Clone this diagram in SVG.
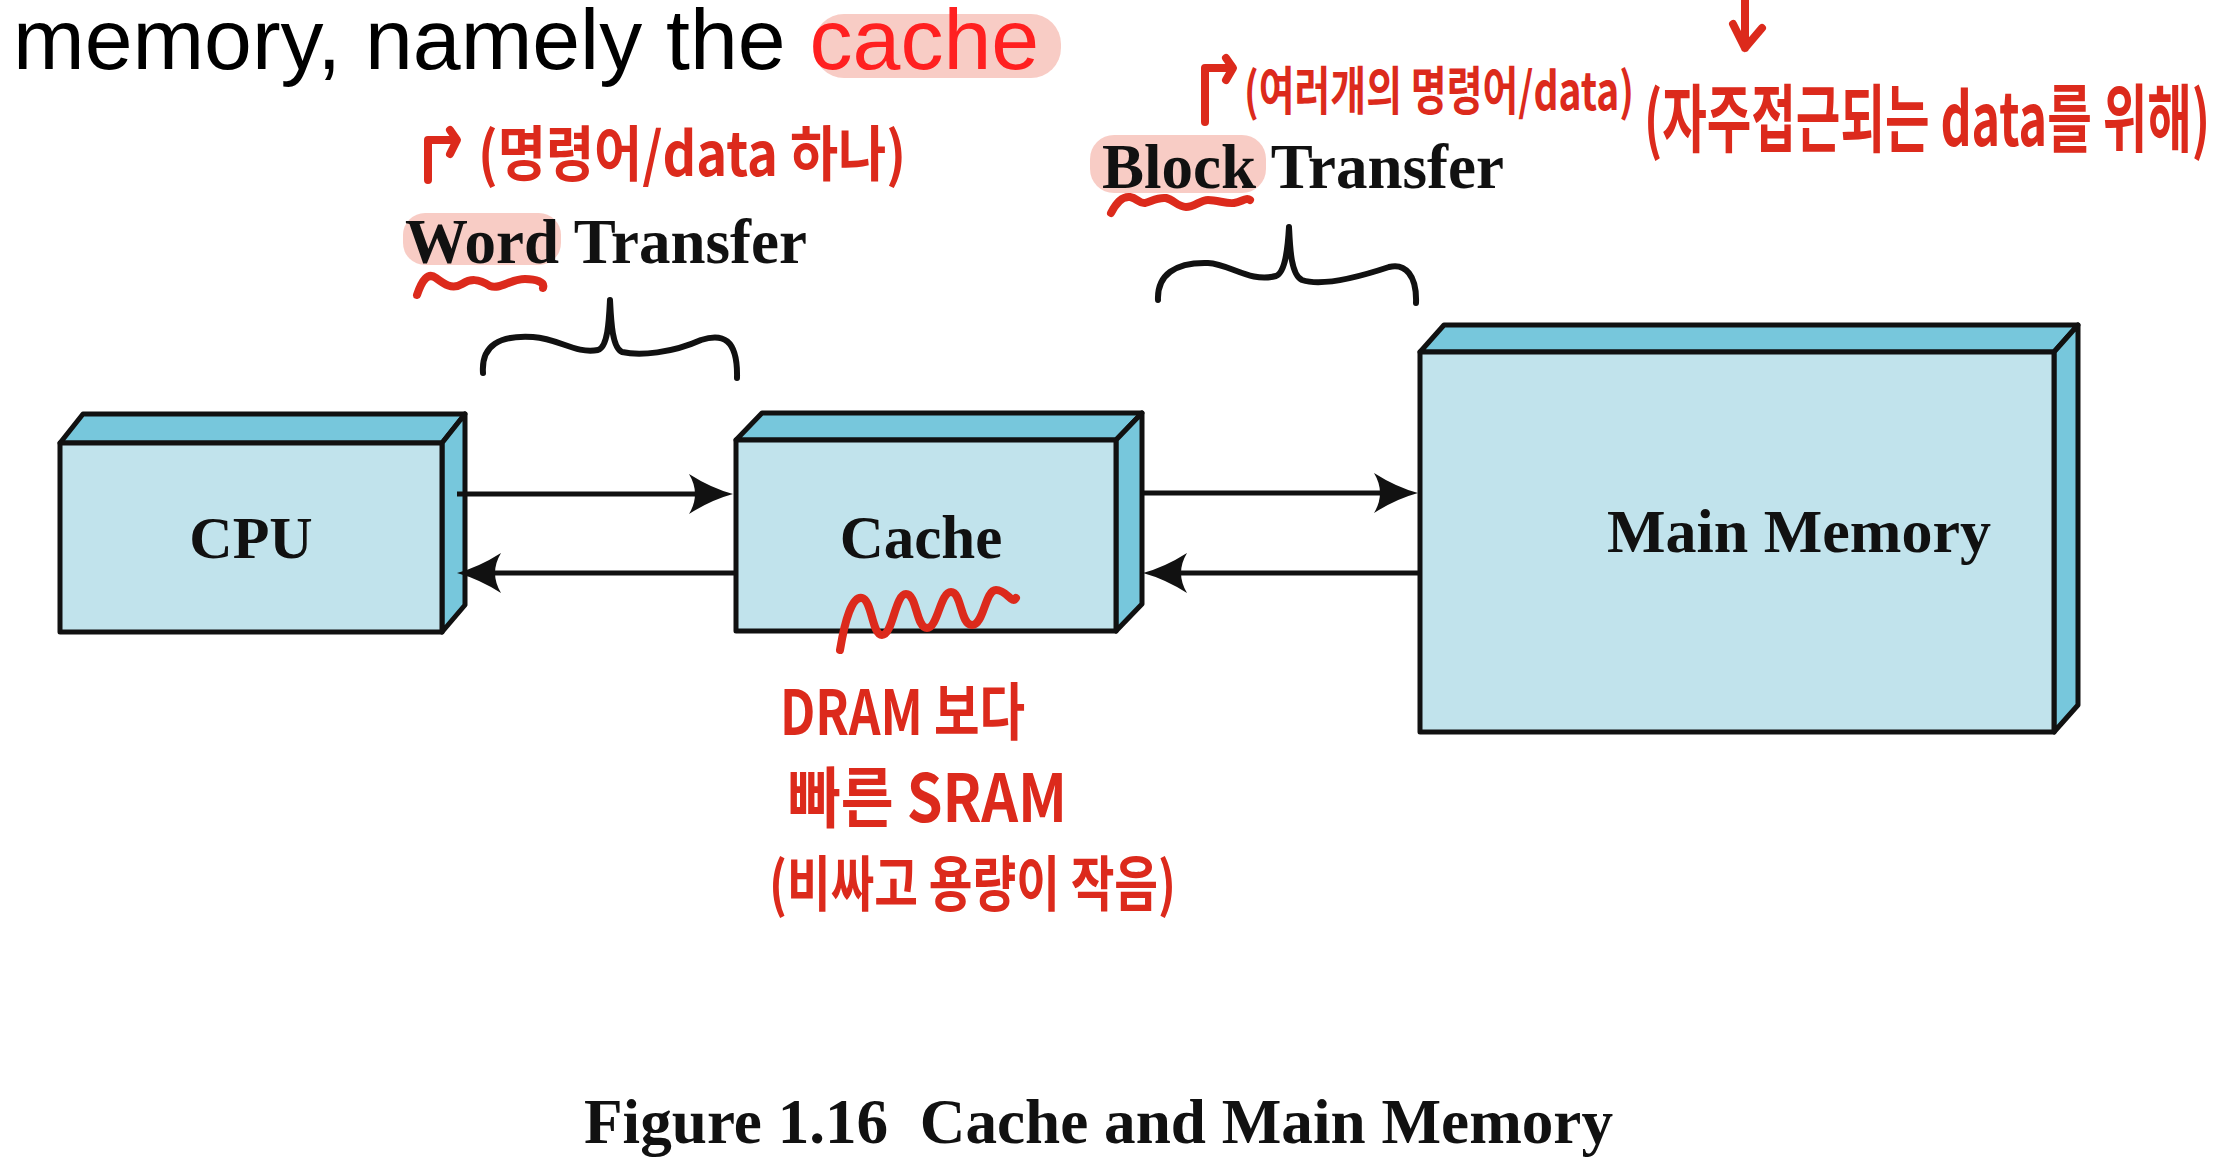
<svg xmlns="http://www.w3.org/2000/svg" width="2232" height="1172" viewBox="0 0 2232 1172">
<defs>
<style>
.front{fill:#c1e3ec;stroke:#111;stroke-width:5;stroke-linejoin:round}
.face{fill:#77c7dc;stroke:#111;stroke-width:5;stroke-linejoin:round}
.lbl{font-family:"Liberation Serif","Times New Roman",serif;font-weight:bold;fill:#111}
.conn{stroke:#111;stroke-width:5;fill:none}
.brace{stroke:#111;stroke-width:6;fill:none;stroke-linecap:round;stroke-linejoin:round}
.hand{font-family:"Noto Sans CJK KR","Noto Sans",sans-serif;font-weight:bold;fill:#dc2a1c}
.ink{stroke:#dc2a1c;stroke-width:8;fill:none;stroke-linecap:round;stroke-linejoin:round}
.hl{fill:#f7c3bb;opacity:0.85}
</style>
<marker id="ah" viewBox="-46 -22 50 44" refX="-18" refY="0" markerWidth="50" markerHeight="44" markerUnits="userSpaceOnUse" orient="auto">
<path d="M0,0 Q-22,-6 -44,-20 Q-32,0 -44,20 Q-22,6 0,0Z" fill="#111"/>
</marker>
</defs>
<rect width="2232" height="1172" fill="#fff"/>

<g id="intro-text">
<rect class="hl" x="814" y="14" width="247" height="64" rx="30"/>
<text x="13" y="69" font-family="Liberation Sans,Arial,sans-serif" font-size="86" fill="#000">memory, namely the <tspan fill="#ff2020">cache</tspan></text>
</g>

<g id="cpu">
<polygon class="face" points="60,443 83,414 465,414 442,443"/>
<polygon class="face" points="442,443 465,414 465,605 442,632"/>
<rect class="front" x="60" y="443" width="382" height="189"/>
<text class="lbl" x="251" y="558" font-size="60" text-anchor="middle">CPU</text>
</g>

<g id="cache">
<polygon class="face" points="736,440 762,413 1142,413 1116,440"/>
<polygon class="face" points="1116,440 1142,413 1142,604 1116,631"/>
<rect class="front" x="736" y="440" width="380" height="191"/>
<text class="lbl" x="921" y="558" font-size="61" text-anchor="middle">Cache</text>
</g>

<g id="main-memory">
<polygon class="face" points="1420,352 1444,325 2078,325 2054,352"/>
<polygon class="face" points="2054,352 2078,325 2078,705 2054,732"/>
<rect class="front" x="1420" y="352" width="634" height="380"/>
<text class="lbl" x="1799" y="552" font-size="62" text-anchor="middle">Main Memory</text>
</g>

<g id="connectors">
<path class="conn" d="M457,494 H715" marker-end="url(#ah)"/>
<path class="conn" d="M736,573 H475" marker-end="url(#ah)"/>
<path class="conn" d="M1143,493 H1400" marker-end="url(#ah)"/>
<path class="conn" d="M1418,573 H1161" marker-end="url(#ah)"/>
</g>

<g id="word-transfer">
<rect class="hl" x="403" y="213" width="158" height="52" rx="22"/>
<text class="lbl" x="405" y="263" font-size="63">Word Transfer</text>
<path class="brace" d="M483,373 C481,345 500,335 533,337 C560,339 575,354 598,350 C608,347 609,320 610,300 C611,320 612,348 622,352 C640,356 672,353 701,340 C722,333 738,338 737,378"/>
</g>

<g id="block-transfer">
<rect class="hl" x="1090" y="135" width="176" height="58" rx="24"/>
<text class="lbl" x="1102" y="188" font-size="63">Block Transfer</text>
<path class="brace" d="M1158,300 C1157,275 1175,262 1208,263 C1230,264 1250,283 1276,276 C1286,272 1288,245 1289,227 C1290,248 1291,275 1302,280 C1320,286 1350,280 1389,267 C1405,263 1417,275 1416,303"/>
</g>

<g id="annotations">
<path class="ink" d="M428,180 V140 H456 M450,130 L457,140 L450,154"/>
<text class="hand" x="478" y="176" font-size="60" textLength="428" lengthAdjust="spacingAndGlyphs">(명령어/data 하나)</text>
<path class="ink" d="M417,295 C422,280 428,272 436,278 C444,284 452,290 462,284 C470,279 478,278 490,286 C500,290 510,279 525,279 C536,279 545,282 543,288"/>

<path class="ink" d="M1205,122 V68 H1232 M1226,58 L1233,68 L1226,80"/>
<text class="hand" x="1244" y="110" font-size="52" textLength="390" lengthAdjust="spacingAndGlyphs">(여러개의 명령어/data)</text>
<path class="ink" d="M1745,0 V48 M1733,24 L1745,48 L1762,28"/>
<text class="hand" x="1644" y="146" font-size="74" textLength="566" lengthAdjust="spacingAndGlyphs">(자주접근되는 data를 위해)</text>
<path class="ink" d="M1111,213 C1116,203 1122,196 1130,197 C1137,198 1140,204 1145,203 C1152,201 1158,197 1166,198 C1174,200 1178,207 1186,207 C1195,207 1200,200 1208,200 C1218,200 1226,204 1234,203 C1242,202 1246,197 1250,200"/>

<path class="ink" d="M840,650 C845,620 852,596 862,598 C872,600 872,635 882,635 C893,635 895,594 906,594 C917,594 916,628 927,628 C938,628 940,592 951,592 C962,592 960,625 972,625 C984,625 985,590 996,590 C1007,590 1012,605 1016,598"/>
<text class="hand" x="780" y="735" font-size="62" textLength="245" lengthAdjust="spacingAndGlyphs">DRAM 보다</text>
<text class="hand" x="788" y="822" font-size="66" textLength="279" lengthAdjust="spacingAndGlyphs">빠른 SRAM</text>
<text class="hand" x="769" y="906" font-size="60" textLength="407" lengthAdjust="spacingAndGlyphs">(비싸고 용량이 작음)</text>
</g>

<g id="caption">
<text class="lbl" x="584" y="1143" font-size="63" xml:space="preserve" textLength="1029" lengthAdjust="spacingAndGlyphs">Figure 1.16  Cache and Main Memory</text>
</g>
</svg>
